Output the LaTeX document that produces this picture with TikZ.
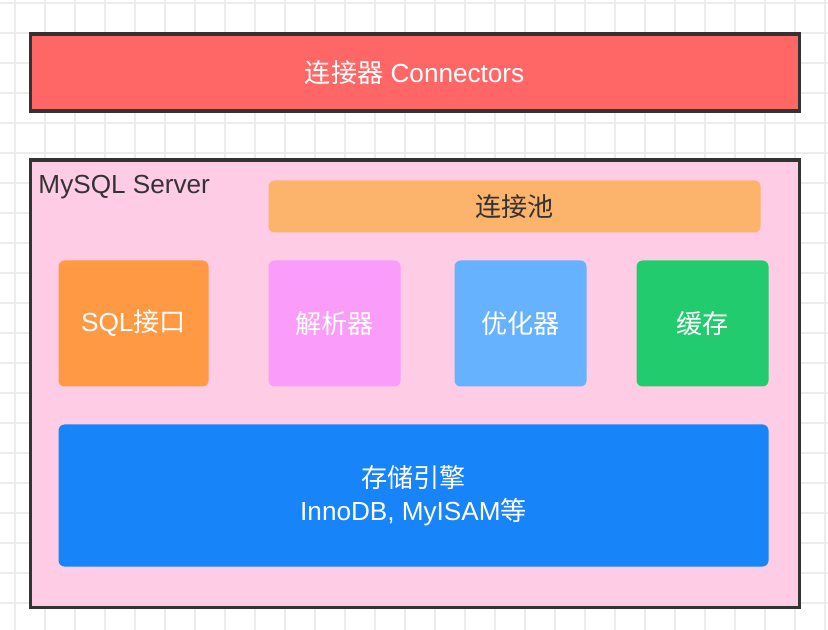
\documentclass[tikz,border=0pt]{standalone}
\usepackage{fontspec}
\setmainfont{Liberation Sans}
\newfontfamily\cjk{Noto Sans CJK SC}
\usepackage{tikz}
\tikzset{every picture/.style={line width=0.75pt}}

\definecolor{gridc}{RGB}{236,236,236}
\definecolor{darkline}{RGB}{51,51,51}
\definecolor{connred}{RGB}{255,102,102}
\definecolor{serverpink}{RGB}{255,204,230}
\definecolor{poolorange}{RGB}{252,179,108}
\definecolor{sqlorange}{RGB}{255,153,68}
\definecolor{parsepink}{RGB}{250,157,250}
\definecolor{optblue}{RGB}{102,178,255}
\definecolor{cachegreen}{RGB}{34,204,110}
\definecolor{engineblue}{RGB}{24,132,249}

\tikzset{
  outerbox/.style={draw=darkline, line width=2.4pt, inner sep=0pt, anchor=north west},
  module/.style={rounded corners=4.5pt, inner sep=0pt, anchor=north west, text=white, font=\fontsize{19.6}{23}\selectfont},
}

\begin{document}
\begin{tikzpicture}[x=0.75pt,y=0.75pt,yscale=-1,xscale=1]
\useasboundingbox (0,0) rectangle (828,630);

%Grid
\foreach \gx in {15,45,...,825} \draw [gridc, line width=0.9pt] (\gx,0) -- (\gx,630);
\foreach \gy in {3,33,...,630} \draw [gridc, line width=0.9pt] (0,\gy) -- (828,\gy);
\foreach \gx in {105,225,...,825} \draw [gridc, line width=1.6pt] (\gx,0) -- (\gx,630);
\foreach \gy in {3,123,...,630} \draw [gridc, line width=1.6pt] (0,\gy) -- (828,\gy);

%Shape: Rectangle (connectors)
\node [outerbox, fill=connred, minimum width=769*0.75pt, minimum height=77*0.75pt, text=white, font=\fontsize{19.6}{23}\selectfont] (conn) at (28.5,32.5) {{\cjk 连接器} Connectors};

%Shape: Rectangle (server)
\node [outerbox, fill=serverpink, minimum width=769*0.75pt, minimum height=447*0.75pt] (server) at (28.5,158.5) {};
% Text Node
\node [anchor=west, text=darkline, font=\fontsize{19.6}{23}\selectfont, inner sep=0pt] (srvlabel) at (38,187) {MySQL Server};

%Shape: Rounded Rectangles
\node [module, fill=poolorange, text=darkline, minimum width=492*0.75pt, minimum height=52*0.75pt] (pool) at (268,180) {\cjk 连接池};
\node [module, fill=sqlorange, minimum width=150*0.75pt, minimum height=126*0.75pt] (sqlif) at (58,260) {SQL{\cjk 接口}};
\node [module, fill=parsepink, minimum width=132*0.75pt, minimum height=126*0.75pt] (parser) at (268,260) {\cjk 解析器};
\node [module, fill=optblue, minimum width=132*0.75pt, minimum height=126*0.75pt] (optim) at (454,260) {\cjk 优化器};
\node [module, fill=cachegreen, minimum width=132*0.75pt, minimum height=126*0.75pt] (cache) at (636,260) {\cjk 缓存};
\node [module, fill=engineblue, minimum width=710*0.75pt, minimum height=142*0.75pt, align=center, font=\fontsize{19.6}{24.5}\selectfont] (engine) at (58,424) {{\cjk 存储引擎}\\InnoDB, MyISAM{\cjk 等}};

\end{tikzpicture}
\end{document}
